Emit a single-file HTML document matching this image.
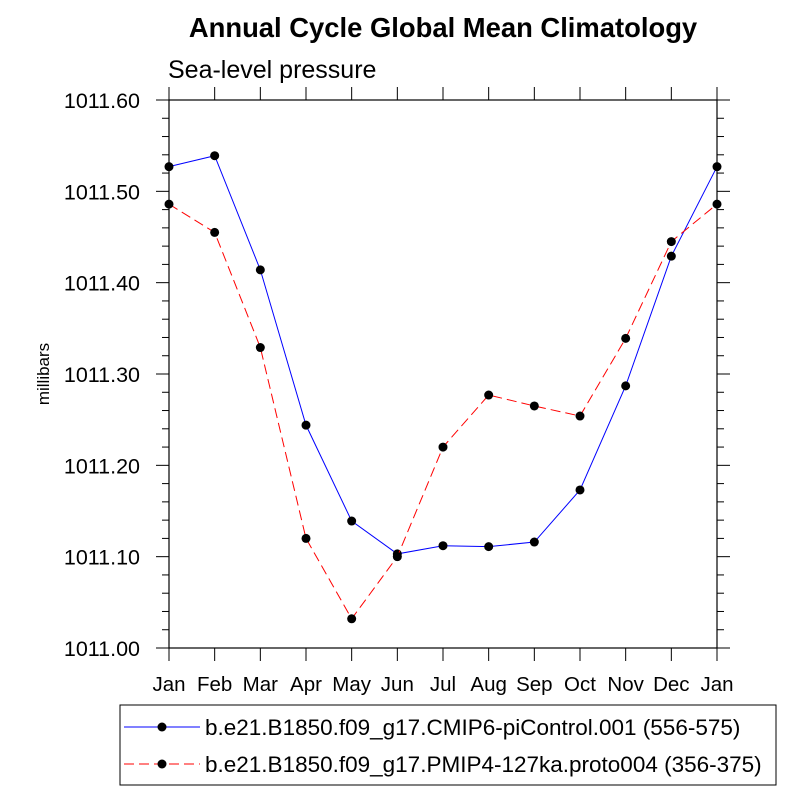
<!DOCTYPE html>
<html><head><meta charset="utf-8"><style>body{margin:0;background:#fff}svg{display:block;font-family:"Liberation Sans",sans-serif}</style></head>
<body>
<svg id="chart" width="800" height="800">
<text x="443" y="37" text-anchor="middle" font-size="27.4" font-weight="bold">Annual Cycle Global Mean Climatology</text>
<text x="168" y="78" font-size="25">Sea-level pressure</text>
<text transform="translate(49,374) rotate(-90)" text-anchor="middle" font-size="17">millibars</text>
<g id="axes"></g><g id="series"></g>
<rect x="120" y="705" width="656" height="80" fill="none" stroke="#000" stroke-width="1"/>
<g><line x1="124" y1="727" x2="200" y2="727" stroke="#0000ff" stroke-width="1"/><circle cx="162" cy="727" r="4.5"/><text x="205" y="735" font-size="22.5">b.e21.B1850.f09_g17.CMIP6-piControl.001 (556-575)</text></g>
<g><line x1="124" y1="764" x2="200" y2="764" stroke="#ff0000" stroke-width="1" stroke-dasharray="10,5"/><circle cx="162" cy="764" r="4.5"/><text x="205" y="772" font-size="22.5">b.e21.B1850.f09_g17.PMIP4-127ka.proto004 (356-375)</text></g>
</svg>
<script>
const months=["Jan","Feb","Mar","Apr","May","Jun","Jul","Aug","Sep","Oct","Nov","Dec","Jan"];
const blueValues=[1011.527,1011.539,1011.414,1011.244,1011.139,1011.103,1011.112,1011.111,1011.116,1011.173,1011.287,1011.429,1011.527];
const redValues=[1011.486,1011.455,1011.329,1011.120,1011.032,1011.100,1011.220,1011.277,1011.265,1011.254,1011.339,1011.445,1011.486];
const yTicks=[1011.00,1011.10,1011.20,1011.30,1011.40,1011.50,1011.60];
const L=169,R=717,T=100,B=648,yMin=1011.0,yMax=1011.6;
const X=i=>L+i*(R-L)/(months.length-1);
const Y=v=>B-(v-yMin)/(yMax-yMin)*(B-T);
const NS="http://www.w3.org/2000/svg";
function mk(t,a,p){const e=document.createElementNS(NS,t);for(const k in a)e.setAttribute(k,a[k]);p.appendChild(e);return e;}
const ax=document.getElementById('axes'),se=document.getElementById('series');
const fr=mk('rect',{x:L,y:T,width:R-L,height:B-T,fill:'none',stroke:'#000','stroke-width':1.2},ax);


for(let v=0;v<=30;v++){const val=yMin+v*0.02,y=Y(val),maj=v%5===0,len=maj?13:7;
mk('line',{x1:L-len,y1:y,x2:L,y2:y,stroke:'#000'},ax);mk('line',{x1:R,y1:y,x2:R+len,y2:y,stroke:'#000'},ax);}
yTicks.forEach(v=>{const t=mk('text',{x:L-29,y:Y(v)+8,'text-anchor':'end','font-size':21.5},ax);t.textContent=v.toFixed(2);

});
months.forEach((m,i)=>{const x=X(i);mk('line',{x1:x,y1:B,x2:x,y2:B+13,stroke:'#000'},ax);mk('line',{x1:x,y1:T-13,x2:x,y2:T,stroke:'#000'},ax);
const t=mk('text',{x:x,y:B+43,'text-anchor':'middle','font-size':20.5},ax);t.textContent=m;

});
function draw(vals,col,dash,name){const g=mk('g',{},se);


mk('polyline',{points:vals.map((v,i)=>X(i)+','+Y(v)).join(' '),fill:'none',stroke:col,'stroke-width':1,'stroke-dasharray':dash},g);
vals.forEach((v,i)=>{const c=mk('circle',{cx:X(i),cy:Y(v),r:4.5,fill:'#000'},g);

});}
draw(blueValues,'#0000ff','none','series-picontrol');
draw(redValues,'#ff0000','10,5','series-127ka');
</script>
</body></html>
